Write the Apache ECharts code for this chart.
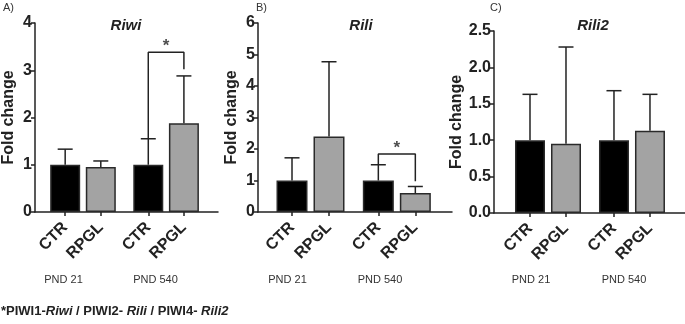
<!DOCTYPE html>
<html><head><meta charset="utf-8">
<script src="https://cdn.jsdelivr.net/npm/echarts@6/dist/echarts.min.js"></script>
<style>html,body{margin:0;padding:0;background:#fff}#c{width:685px;height:324px}</style>
</head><body><div id="c"></div><script>
// ---- data ----
const categories = ['CTR', 'RPGL', 'CTR', 'RPGL'];
const groups = ['PND 21', 'PND 540'];
const panelLetters = ['A)', 'B)', 'C)'];
const genes = ['Riwi', 'Rili', 'Rili2'];
const riwiMean = [1.0, 0.95, 1.0, 1.88];
const riwiSD = [0.33, 0.13, 0.55, 1.0];
const riliMean = [1.0, 2.4, 1.0, 0.6];
const riliSD = [0.72, 2.37, 0.5, 0.21];
const rili2Mean = [1.0, 0.95, 1.0, 1.13];
const rili2SD = [0.63, 1.33, 0.68, 0.5];
const riwiTicks = [0, 1, 2, 3, 4];
const riliTicks = [0, 1, 2, 3, 4, 5, 6];
const rili2Ticks = [0, 0.5, 1.0, 1.5, 2.0, 2.5];
// significance: bracket between bars 2 and 3 (top level, left leg end, right leg end)
const riwiSig = { left: 2, right: 3, top: 3.38, leftEnd: 1.55, rightEnd: 3.02 };
const riliSig = { left: 2, right: 3, top: 1.84, leftEnd: 1.5, rightEnd: 0.98 };
const footnoteParts = [['*PIWI1-', 'b'], ['Riwi', 'i'], [' / PIWI2- ', 'b'], ['Rili', 'i'], [' / PIWI4- ', 'b'], ['Rili2', 'i']];

// ---- layout ----
const FONT = 'Arial, "Liberation Sans", Helvetica, sans-serif';
const xPos = [1, 2, 3.333, 4.333];
const panels = [
  { mean: riwiMean, sd: riwiSD, ticks: riwiTicks, sig: riwiSig, grid: { left: 33, top: 23, width: 185, height: 189 }, xMin: 0.153, xMax: 5.29, bw: 30, dec: 0, title: 121, letter: 3, gx: [63.5, 155.5], nameGap: 18 },
  { mean: riliMean, sd: riliSD, ticks: riliTicks, sig: riliSig, grid: { left: 258, top: 23, width: 194, height: 189 }, xMin: 0.081, xMax: 5.324, bw: 31, dec: 0, title: 356, letter: 256, gx: [287.5, 380], nameGap: 18 },
  { mean: rili2Mean, sd: rili2SD, ticks: rili2Ticks, sig: null, grid: { left: 494, top: 31, width: 191, height: 182 }, xMin: 0, xMax: 5.306, bw: 30, dec: 1, title: 588, letter: 490, gx: [531, 624], nameGap: 21 }
];
const INK = '#222';
const barColors = ['#000000', '#a3a3a3'];

const grid = [], xAxis = [], yAxis = [], series = [], title = [], graphic = [];
panels.forEach((p, k) => {
  grid.push(Object.assign({ containLabel: false }, p.grid));
  xAxis.push({
    type: 'value', gridIndex: k, min: p.xMin, max: p.xMax,
    splitLine: { show: false },
    axisLine: { show: true, lineStyle: { color: INK, width: 1.5 } },
    axisTick: { show: true, customValues: xPos, length: 4, lineStyle: { color: INK, width: 1.5 } },
    axisLabel: {
      customValues: xPos, rotate: 45, margin: 13,
      fontFamily: FONT, fontSize: 16, fontWeight: 'bold', color: INK,
      formatter: v => { let b = 0; xPos.forEach((x, i) => { if (Math.abs(x - v) < Math.abs(xPos[b] - v)) b = i; }); return categories[b]; }
    }
  });
  const tmax = p.ticks[p.ticks.length - 1];
  yAxis.push({
    type: 'value', gridIndex: k, min: p.ticks[0], max: tmax, interval: p.ticks[1] - p.ticks[0],
    name: 'Fold change', nameLocation: 'middle', nameGap: p.nameGap,
    nameTextStyle: { fontFamily: FONT, fontSize: 16, fontWeight: 'bold', color: INK },
    splitLine: { show: false },
    axisLine: { show: true, lineStyle: { color: INK, width: 1.5 } },
    axisTick: { show: true, length: 4, lineStyle: { color: INK, width: 1.5 } },
    axisLabel: { margin: 3, fontFamily: FONT, fontSize: 16, fontWeight: 'bold', color: INK, formatter: v => v.toFixed(p.dec) }
  });
  series.push({
    type: 'bar', xAxisIndex: k, yAxisIndex: k, barWidth: p.bw,
    data: xPos.map((x, i) => ({ value: [x, p.mean[i]], itemStyle: { color: barColors[i % 2] } })),
    itemStyle: { borderColor: '#2a2a2a', borderWidth: 1.5 }
  });
  series.push({
    type: 'custom', xAxisIndex: k, yAxisIndex: k, z: 3,
    data: xPos.map((x, i) => [x, p.mean[i], p.mean[i] + p.sd[i]]),
    renderItem: (params, api) => {
      const a = api.coord([api.value(0), api.value(1)]);
      const b = api.coord([api.value(0), api.value(2)]);
      const st = { stroke: INK, lineWidth: 1.5 };
      return { type: 'group', children: [
        { type: 'line', shape: { x1: a[0], y1: a[1], x2: b[0], y2: b[1] }, style: st },
        { type: 'line', shape: { x1: b[0] - 7.5, y1: b[1], x2: b[0] + 7.5, y2: b[1] }, style: st }
      ] };
    }
  });
  if (p.sig) {
    const s = p.sig, xl = xPos[s.left], xr = xPos[s.right];
    series.push({
      type: 'line', xAxisIndex: k, yAxisIndex: k, symbol: 'none', silent: true,
      lineStyle: { color: INK, width: 1.5 },
      data: [[xl, s.leftEnd], [xl, s.top], [xr, s.top], [xr, s.rightEnd]]
    });
    series.push({
      type: 'scatter', xAxisIndex: k, yAxisIndex: k, symbolSize: 1, itemStyle: { color: 'rgba(0,0,0,0)' },
      data: [[(xl + xr) / 2, s.top]],
      label: { show: true, position: 'top', distance: -3, formatter: '*', fontFamily: FONT, fontSize: 17, fontWeight: 'bold', color: INK }
    });
  }
  title.push({
    text: genes[k], left: p.title, top: 13, textAlign: 'center',
    textStyle: { fontFamily: FONT, fontSize: 15, fontWeight: 'bold', fontStyle: 'italic', color: INK }
  });
  graphic.push({ type: 'text', left: p.letter, top: 2, style: { text: panelLetters[k], fontFamily: FONT, fontSize: 11, fill: '#333' } });
  groups.forEach((g, j) => {
    graphic.push({ type: 'text', x: p.gx[j], y: 280, style: { text: g, fontFamily: FONT, fontSize: 11, fill: '#333', align: 'center', verticalAlign: 'middle' } });
  });
});

const FS = 13;
const rich = { b: { fontFamily: FONT, fontSize: FS, fontWeight: 'bold', fill: INK, color: INK }, i: { fontFamily: FONT, fontSize: FS, fontWeight: 'bold', fontStyle: 'italic', fill: INK, color: INK } };
graphic.push({
  type: 'text', x: 1, y: 311,
  style: { text: footnoteParts.map(([t, s]) => '{' + s + '|' + t + '}').join(''), rich: rich, verticalAlign: 'middle', font: 'bold ' + FS + 'px ' + FONT, fill: INK }
});

const chart = echarts.init(document.getElementById('c'), null, { renderer: 'canvas' });
chart.setOption({ animation: false, backgroundColor: '#fff', grid, xAxis, yAxis, series, title, graphic });
</script></body></html>
